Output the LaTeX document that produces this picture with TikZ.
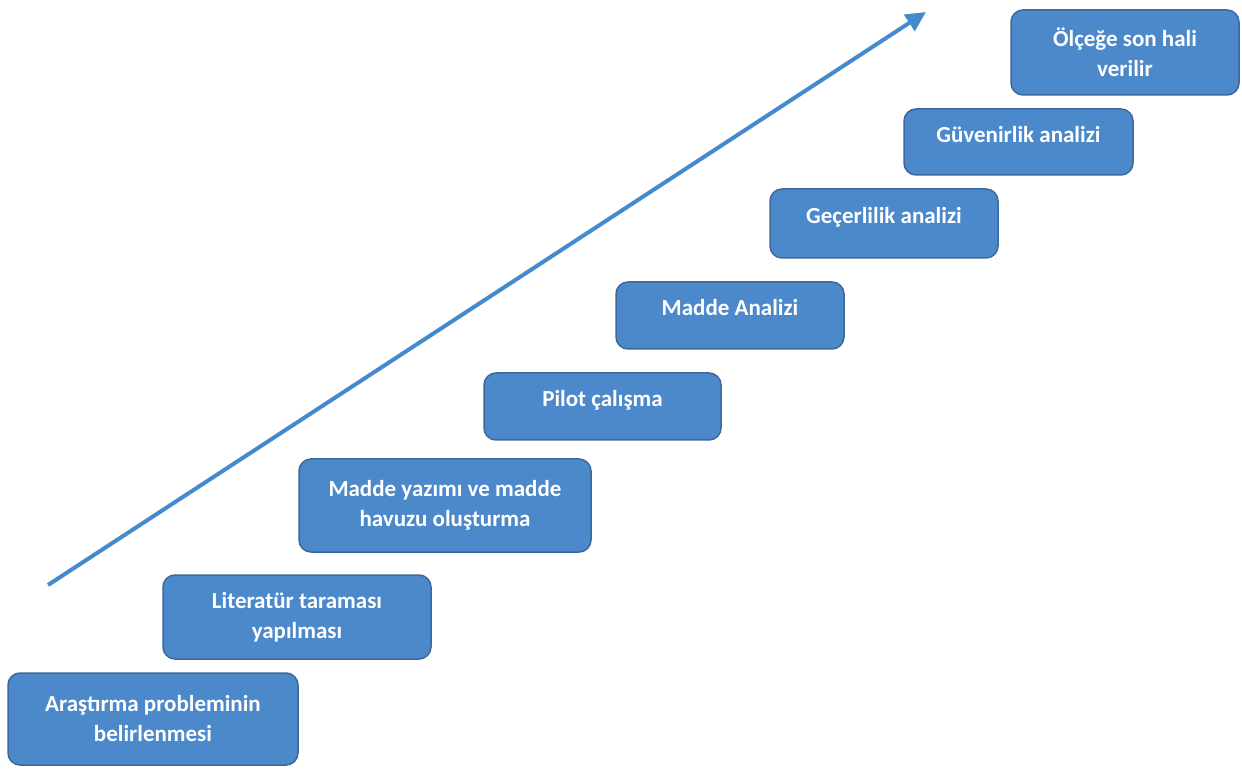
\documentclass[tikz,border=0pt]{standalone}
\usepackage{fontspec}
\setmainfont{Carlito}
\usetikzlibrary{calc,arrows.meta}

\definecolor{stepfill}{RGB}{76,137,203}
\definecolor{stepline}{RGB}{60,105,155}
\definecolor{arrowblue}{RGB}{70,138,206}

\begin{document}
\begin{tikzpicture}[x=1pt,y=1pt,
  stepbox/.style={draw=stepline,fill=stepfill,rectangle,rounded corners=12pt,line width=1.5pt,
    minimum width=228pt,minimum height=67pt,text=white,align=center,
    font=\fontsize{23}{30}\selectfont\bfseries,inner sep=0pt},
  oneline/.style={text height=16pt,text depth=15pt}]
\useasboundingbox (0,0) rectangle (1242,769);

\draw node [stepbox,minimum width=290pt,minimum height=92pt] at (153,50)(araştırma){Araştırma probleminin\\belirlenmesi};
\draw node [stepbox,minimum width=268pt,minimum height=84pt] at (297,152)(literatur){Literatür taraması\\yapılması};
\draw node [stepbox,minimum width=292pt,minimum height=93pt] at (445,263.5)(yazim){Madde yazımı ve madde\\havuzu oluşturma};
\draw node [stepbox,oneline,minimum width=237pt] at (602.5,362.5)(pilot){Pilot çalışma};
\draw node [stepbox,oneline] at (730,453.5)(madde){Madde Analizi};
\draw node [stepbox,oneline,minimum height=69pt] at (884,545.5)(gecerlilik){Geçerlilik analizi};
\draw node [stepbox,oneline,minimum width=229pt,minimum height=66pt] at (1018.5,627)(guvenirlik){Güvenirlik analizi};
\draw node [stepbox,minimum height=85pt] at (1125,716.5)(son){Ölçeğe son hali\\verilir};

% rising arrow
\coordinate (start) at (48,184);
\coordinate (end) at (926,757);
\draw[-{Triangle[length=20pt,width=19pt]},line width=4pt,arrowblue] (start) -- (end);

\end{tikzpicture}
\end{document}
